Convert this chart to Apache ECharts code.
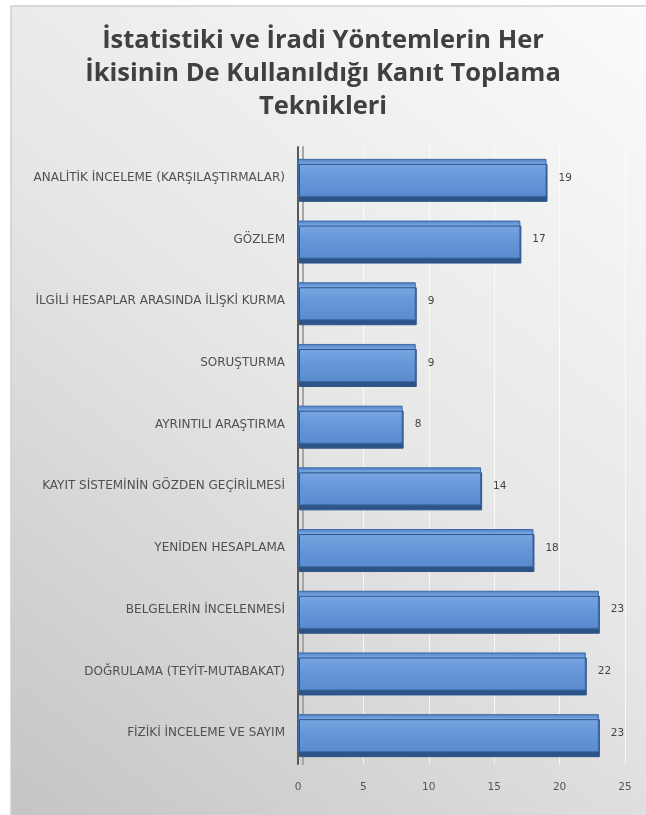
<!DOCTYPE html>
<html>
<head>
<meta charset="utf-8">
<script src="https://cdn.jsdelivr.net/npm/echarts@6/dist/echarts.min.js"></script>
<style>
html,body{margin:0;padding:0;background:#ffffff;}
#c{width:646px;height:815px;}
</style>
</head>
<body>
<div id="c"></div>
<script>
const titleText = "İstatistiki ve İradi Yöntemlerin Her\nİkisinin De Kullanıldığı Kanıt Toplama\nTeknikleri";
// top-to-bottom order as shown
const categories = [
  "ANALİTİK İNCELEME (KARŞILAŞTIRMALAR)",
  "GÖZLEM",
  "İLGİLİ HESAPLAR ARASINDA İLİŞKİ KURMA",
  "SORUŞTURMA",
  "AYRINTILI ARAŞTIRMA",
  "KAYIT SİSTEMİNİN GÖZDEN GEÇİRİLMESİ",
  "YENİDEN HESAPLAMA",
  "BELGELERİN İNCELENMESİ",
  "DOĞRULAMA (TEYİT-MUTABAKAT)",
  "FİZİKİ İNCELEME VE SAYIM"
];
const values = [19, 17, 9, 9, 8, 14, 18, 23, 22, 23];
const xTicks = [0, 5, 10, 15, 20, 25];

const chart = echarts.init(document.getElementById('c'), null, {renderer: 'canvas'});
chart.setOption({
  animation: false,
  backgroundColor: '#ffffff',
  graphic: [{
    type: 'rect', z: -10, silent: true,
    shape: {x: 11, y: 6, width: 640, height: 815},
    style: {
      fill: new echarts.graphic.LinearGradient(1, 0, 0, 1, [
        {offset: 0, color: '#fbfbfb'},
        {offset: 0.5, color: '#e6e6e6'},
        {offset: 1, color: '#c4c4c4'}
      ]),
      stroke: '#cfcfcf', lineWidth: 1.5
    }
  }],
  title: {
    text: titleText,
    left: 'center', top: 19,
    textStyle: {
      fontFamily: 'Open Sans', fontWeight: 'bold', fontSize: 25.5,
      color: '#404040', lineHeight: 33
    }
  },
  grid: {left: 298, right: 21, top: 147, bottom: 51, containLabel: false},
  xAxis: {
    type: 'value', min: 0, max: 25, interval: 5,
    axisLine: {show: false},
    axisTick: {show: false},
    axisLabel: {
      margin: 18, color: '#555', fontSize: 10.5, fontFamily: 'DejaVu Sans',
      formatter: v => xTicks.includes(v) ? String(v) : ''
    },
    splitLine: {show: true, lineStyle: {color: 'rgba(255,255,255,0.75)', width: 1}}
  },
  yAxis: {
    type: 'category', data: categories, inverse: true,
    axisLine: {show: true, lineStyle: {color: '#5a5a5a', width: 2,
      shadowColor: '#a6a6a6', shadowOffsetX: 5, shadowBlur: 0}},
    axisTick: {show: false},
    axisLabel: {
      margin: 13, color: '#505050', fontSize: 12, fontFamily: 'DejaVu Sans'
    }
  },
  series: [{
    type: 'bar', data: values, barWidth: 38,
    itemStyle: {
      color: new echarts.graphic.LinearGradient(0, 0, 0, 1, [
        {offset: 0, color: '#4d7fc2'},
        {offset: 0.12, color: '#78a6e2'},
        {offset: 0.5, color: '#6697d8'},
        {offset: 1, color: '#5a8bcf'}
      ]),
      borderColor: '#3e6aa6', borderWidth: 1,
      shadowColor: '#2c5488', shadowOffsetY: 5, shadowOffsetX: 1, shadowBlur: 0
    },
    label: {
      show: true, position: 'right', distance: 12,
      color: '#444', fontSize: 10.5, fontFamily: 'DejaVu Sans'
    }
  }]
});
</script>
</body>
</html>
